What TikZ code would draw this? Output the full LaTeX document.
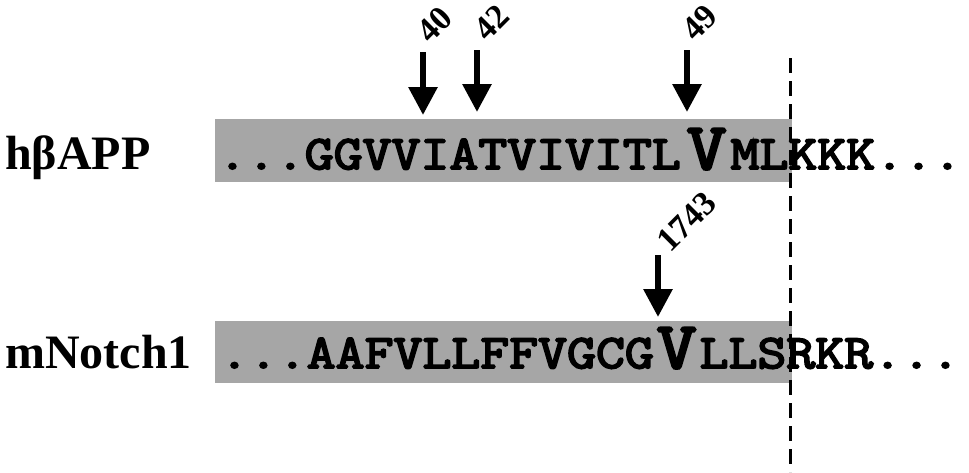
\documentclass[tikz,border=0pt]{standalone}
\usepackage{fontspec}
\setmainfont{Liberation Serif}
\newfontfamily\seqfont{Latin Modern Mono}[FakeStretch=1.17,FakeBold=4]
\usetikzlibrary{arrows.meta}

\begin{document}
\begin{tikzpicture}[x=1pt,y=-1pt,
    seq/.style={inner sep=0pt,outer sep=0pt,anchor=base west,
      font=\fontsize{48}{48}\selectfont\seqfont},
    bigres/.style={seq,font=\fontsize{66}{66}\selectfont\seqfont},
    protein/.style={inner sep=0pt,anchor=base west,
      font=\fontsize{48}{48}\selectfont\bfseries},
    site/.style={inner sep=0pt,rotate=45,font=\fontsize{34}{34}\selectfont\bfseries},
    cut/.style={line width=6pt,-{Triangle[length=28pt,width=28pt]}},
    band/.style={fill=black!35,draw=none}]
    \useasboundingbox (0,0) rectangle (969,472);
    \fill[band] (215,119) rectangle (792,182);
    \fill[band] (215,321) rectangle (792,383);
    % h beta APP
    \node[protein] (app) at (5,169) {hβAPP};
    \node[seq] (app1) at (218,169) {...GGVVIATVIVITL};
    \node[bigres] (appV) at ([xshift=6pt]app1.base east) {V};
    \node[seq] (app2) at ([xshift=4pt]appV.base east) {ML};
    \node[seq] (app3) at (app2.base east) {KKK...};
    % mNotch1
    \node[protein] (notch) at (5,368) {mNotch1};
    \node[seq] (notch1) at (220,368) {...AAFVLLFFVGCG};
    \node[bigres] (notchV) at ([xshift=3pt]notch1.base east) {V};
    \node[seq] (notch2) at ([xshift=3pt]notchV.base east) {LLS};
    \node[seq] (notch3) at (notch2.base east) {RKR...};
    % cleavage sites
    \coordinate (a40) at (423,52);
    \coordinate (b40) at (423,115);
    \coordinate (a42) at (477,50);
    \coordinate (b42) at (477,112);
    \coordinate (a49) at (687,50);
    \coordinate (b49) at (687,112);
    \coordinate (a1743) at (658,255);
    \coordinate (b1743) at (658,317);
    \draw[cut] (a40) -- (b40);
    \draw[cut] (a42) -- (b42);
    \draw[cut] (a49) -- (b49);
    \draw[cut] (a1743) -- (b1743);
    \node[site] (l40) at (435,25) {40};
    \node[site] (l42) at (492,23) {42};
    \node[site] (l49) at (700,23) {49};
    \node[site] (l1743) at (687,222) {1743};
    % membrane border
    \coordinate (mtop) at (790,58);
    \coordinate (mbot) at (790,472);
    \draw[line width=3pt,dash pattern=on 15pt off 8pt] (mtop) -- (mbot);
  \end{tikzpicture}
\end{document}
